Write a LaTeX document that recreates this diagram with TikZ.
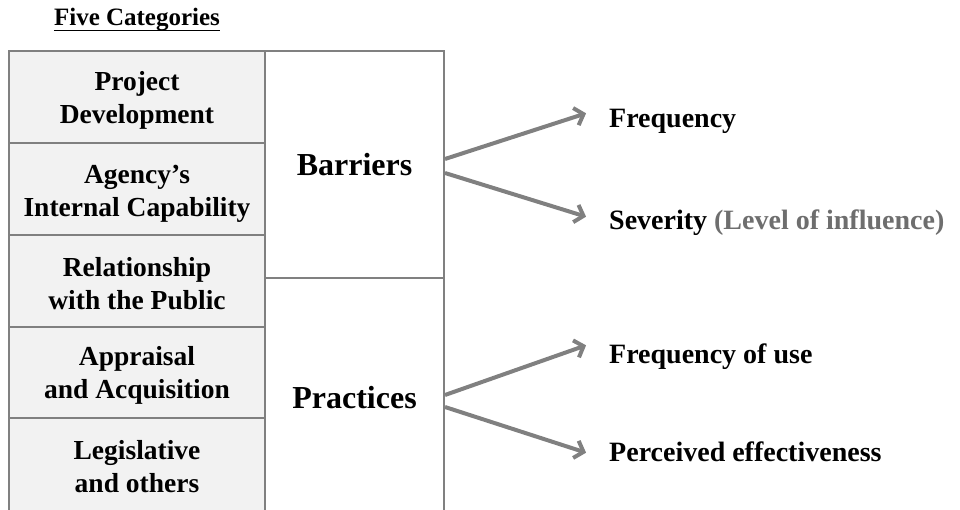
\documentclass[tikz,border=0pt]{standalone}
\usepackage{fontspec}
\setmainfont{Liberation Serif}
\usetikzlibrary{arrows.meta}
\definecolor{edgegray}{HTML}{808080}
\definecolor{cellgray}{HTML}{F2F2F2}
\definecolor{notegray}{HTML}{6E6E6E}
\tikzset{
  cell/.style={draw=edgegray, line width=2pt, fill=cellgray, minimum width=256pt,
    inner sep=0pt},
  celltext/.style={align=center, inner sep=0pt, yshift=-3pt,
    font=\bfseries\fontsize{27.5}{33}\selectfont},
  group/.style={draw=edgegray, line width=2pt, fill=white, minimum width=179pt,
    inner sep=0pt, font=\bfseries\fontsize{32}{38}\selectfont},
  outcome/.style={anchor=west, inner sep=0pt, text height=0.68em, text depth=0pt,
    font=\bfseries\fontsize{28}{33}\selectfont},
  link/.style={draw=edgegray, line width=4pt,
    -{Straight Barb[length=8pt,width=18pt]}, shorten >=1pt},
}
\begin{document}
\begin{tikzpicture}[x=1pt, y=-1pt]
\useasboundingbox (0,0) rectangle (960,510);
\clip (0,0) rectangle (960,510);

% heading
\node[inner sep=0pt, font=\bfseries\fontsize{25}{29}\selectfont, anchor=base]
  (title) at (137,26) {Five Categories};
\draw[line width=1.5pt] ([yshift=-4.5pt]title.base west) -- ([yshift=-4.5pt]title.base east);

% the five categories
\node[cell, minimum height=92pt]  (c1) at (137,97)    {};
\node[cell, minimum height=92pt]  (c2) at (137,189)   {};
\node[cell, minimum height=92pt]  (c3) at (137,281)   {};
\node[cell, minimum height=91pt]  (c4) at (137,372.5) {};
\node[cell, minimum height=102pt] (c5) at (137,469)   {};
\node[celltext] (t1) at (c1.center) {Project\\Development};
\node[celltext] (t2) at ([yshift=-2pt]c2.center) {Agency’s\\Internal Capability};
\node[celltext] (t3) at (c3.center) {Relationship\\with the Public};
\node[celltext] (t4) at (c4.center) {Appraisal\\and Acquisition};
\node[celltext] (t5) at (137,464) {Legislative\\and others};

% groups
\node[group, minimum height=227pt] (barriers)  at (354.5,164.5) {Barriers};
\node[group, minimum height=240pt] (practices) at (354.5,398) {Practices};

% measured outcomes
\node[outcome] (freq)   at (609,124) {Frequency};
\node[outcome] (sev)    at (609,226) {Severity \textcolor{notegray}{(Level of influence)}};
\node[outcome] (use)    at (609,360) {Frequency of use};
\node[outcome] (effect) at (609,458) {Perceived effectiveness};

% connectors
\draw[link] ([yshift=5.5pt]barriers.east)  -- ([xshift=-22pt,yshift=11pt]freq.west);
\draw[link] ([yshift=-8.5pt]barriers.east) -- ([xshift=-22pt,yshift=9pt]sev.west);
\draw[link] ([yshift=3pt]practices.east)   -- ([xshift=-22pt,yshift=15pt]use.west);
\draw[link] ([yshift=-9pt]practices.east)  -- ([xshift=-22pt,yshift=5pt]effect.west);
\end{tikzpicture}
\end{document}
